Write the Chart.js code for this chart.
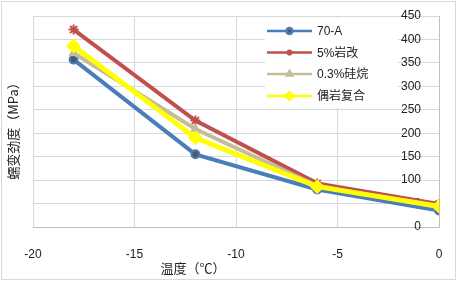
<!DOCTYPE html>
<html>
<head>
<meta charset="utf-8">
<script src="https://cdn.jsdelivr.net/npm/chart.js@4/dist/chart.umd.min.js"></script>
<style>
    html, body { margin: 0; padding: 0; background: #fff; }
    #wrap { width: 458px; height: 282px; position: relative; }
</style>
</head>
<body>
<div id="wrap"><canvas id="creepChart"></canvas></div>
<script>
// temperature (°C) and creep stiffness (MPa)
const temps = [-18, -12, -6, 0];
const a70 = [357, 155, 80, 35];
const yanGai5 = [421, 227, 93, 49];
const guiWan03 = [371, 209, 88, 42];
const ouYanFuHe = [386, 190, 86, 44];
const seriesNames = ['70-A', '5%岩改', '0.3%硅烷', '偶岩复合'];
const xTicks = [-20, -15, -10, -5, 0];
const yTicks = [0, 50, 100, 150, 200, 250, 300, 350, 400, 450];

const numFont = "'Liberation Sans', 'Noto Sans CJK SC', sans-serif";
const cjkFont = "'Noto Sans CJK SC', 'Liberation Sans', sans-serif";

function toPoints(vals) {
    return vals.map((v, i) => ({ x: temps[i], y: v }));
}

const seriesStyle = [
    { color: '#4A7EBB', fill: '#4d5966', style: 'circle', radius: 4, width: 4 },
    { color: '#C0504D', fill: '#C0504D', style: 'star', radius: 5, width: 4 },
    { color: '#C4BD97', fill: '#C4BD97', style: 'triangle', radius: 4, width: 4 },
    { color: '#FFFF00', fill: '#FFFF00', style: 'rectRot', radius: 6, width: 5 }
];

// legend box, axis titles and outer frame, Excel style
const extras = {
    id: 'extras',
    beforeDatasetsDraw(chart) {
        const c = chart.ctx;
        c.save();
        c.fillStyle = '#fff';
        c.fillRect(265, 18, 133, 90);
        const rowY = [31, 52.5, 74, 96];
        seriesNames.forEach((name, i) => {
            const s = seriesStyle[i];
            const y = rowY[i];
            c.strokeStyle = s.color;
            c.lineWidth = 2.5;
            c.beginPath();
            c.moveTo(267, y);
            c.lineTo(312, y);
            c.stroke();
            c.fillStyle = s.fill;
            c.strokeStyle = s.color;
            Chart.helpers.drawPoint(c, { pointStyle: s.style, radius: s.style === 'rectRot' ? 4 : 3, rotation: 0, borderWidth: 1.5 }, 289.5, y);
            c.fillStyle = '#222';
            c.font = '12px ' + numFont;
            c.textAlign = 'left';
            c.textBaseline = 'middle';
            c.fillText(name, 317, y + 1);
        });
        c.restore();
    },
    afterDraw(chart) {
        const c = chart.ctx;
        c.save();
        c.fillStyle = '#222';
        c.font = '13px ' + cjkFont;
        c.textAlign = 'center';
        c.textBaseline = 'middle';
        c.fillText('温度（℃）', 193, 268);
        c.translate(13, 128);
        c.rotate(-Math.PI / 2);
        c.fillText('蠕变劲度（MPa）', 0, 0);
        c.restore();
        c.save();
        c.strokeStyle = '#D9D9D9';
        c.lineWidth = 1;
        c.strokeRect(1.5, 1.5, 454, 278);
        c.restore();
    }
};

function initCreepChart() {
    const ctx = document.getElementById('creepChart');
    const allSeries = [a70, yanGai5, guiWan03, ouYanFuHe];
    new Chart(ctx.getContext('2d'), {
        type: 'line',
        data: {
            datasets: allSeries.map((vals, i) => ({
                label: seriesNames[i],
                data: toPoints(vals),
                borderColor: seriesStyle[i].color,
                backgroundColor: seriesStyle[i].fill,
                borderWidth: seriesStyle[i].width,
                pointStyle: seriesStyle[i].style,
                pointRadius: seriesStyle[i].radius,
                pointBorderColor: seriesStyle[i].color,
                pointBackgroundColor: seriesStyle[i].fill,
                pointBorderWidth: 2,
                tension: 0,
                order: 4 - i
            }))
        },
        options: {
            responsive: true,
            maintainAspectRatio: false,
            animation: false,
            layout: { padding: { left: 33, right: 19, top: 16, bottom: 0.6 } },
            plugins: {
                legend: { display: false },
                title: { display: false },
                tooltip: { enabled: false }
            },
            scales: {
                x: {
                    type: 'linear',
                    min: xTicks[0],
                    max: xTicks[xTicks.length - 1],
                    afterBuildTicks: (axis) => { axis.ticks = xTicks.map(v => ({ value: v })); },
                    // tick padding would otherwise widen the side margins
                    afterFit: (axis) => { axis.paddingLeft = 0; axis.paddingRight = 0; },
                    ticks: { padding: 20, color: '#222', font: { size: 12, family: numFont } },
                    grid: { color: '#D9D9D9', drawTicks: false },
                    border: { color: '#BFBFBF' }
                },
                y: {
                    position: 'right',
                    min: yTicks[0],
                    max: yTicks[yTicks.length - 1],
                    afterBuildTicks: (axis) => { axis.ticks = yTicks.map(v => ({ value: v })); },
                    // labels sit inside the plot, left of the axis line
                    afterFit: (axis) => { axis.width = 0; },
                    ticks: { mirror: true, padding: -18, color: '#222', font: { size: 12, family: numFont } },
                    grid: { color: '#D9D9D9', drawTicks: false },
                    border: { color: '#BFBFBF' }
                }
            }
        },
        plugins: [extras]
    });
}

document.addEventListener('DOMContentLoaded', initCreepChart);
</script>
</body>
</html>
